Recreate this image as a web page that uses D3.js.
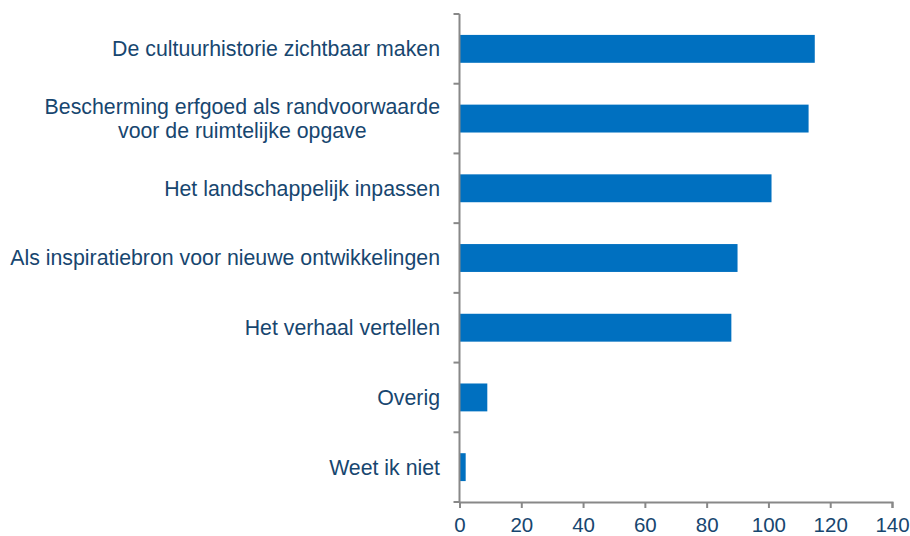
<!DOCTYPE html>
<html>
<head>
<meta charset="utf-8">
<script src="https://d3js.org/d3.v7.min.js"></script>
<style>
  body { margin: 0; background: #fff; }
  svg text { font-family: "Liberation Sans", Arial, sans-serif; }
</style>
</head>
<body>
<svg id="chart" width="910" height="536"></svg>
<script>
const categories = [
  ["De cultuurhistorie zichtbaar maken"],
  ["Bescherming erfgoed als randvoorwaarde", "voor de ruimtelijke opgave"],
  ["Het landschappelijk inpassen"],
  ["Als inspiratiebron voor nieuwe ontwikkelingen"],
  ["Het verhaal vertellen"],
  ["Overig"],
  ["Weet ik niet"]
];
const values = [115, 113, 101, 90, 88, 9, 2];
const xTicks = [0, 20, 40, 60, 80, 100, 120, 140];

const svg = d3.select('#chart');
const plotLeft = 459.5, plotRight = 892, plotTop = 14, plotBottom = 502;
const textColor = '#17466F';
const axisColor = '#888888';
const labelRight = 440;

const x = d3.scaleLinear().domain([0, 140]).range([plotLeft, plotRight]);
const y = d3.scaleBand().domain(d3.range(values.length)).range([plotTop, plotBottom]).paddingInner(0.6).paddingOuter(0.3);

// bars
svg.append('g').selectAll('rect')
  .data(values)
  .enter().append('rect')
    .attr('x', x(0))
    .attr('y', (d, i) => y(i))
    .attr('width', d => x(d) - x(0))
    .attr('height', y.bandwidth())
    .attr('fill', '#0070C0');

// y axis line with ticks at category boundaries
const step = (plotBottom - plotTop) / values.length;
const gy = svg.append('g');
gy.append('line')
  .attr('x1', plotLeft).attr('x2', plotLeft).attr('y1', plotTop).attr('y2', plotBottom)
  .attr('stroke', axisColor).attr('stroke-width', 2);
gy.selectAll('line.tick')
  .data(d3.range(values.length + 1))
  .enter().append('line')
    .attr('class', 'tick')
    .attr('x1', plotLeft - 6).attr('x2', plotLeft)
    .attr('y1', i => plotTop + i * step).attr('y2', i => plotTop + i * step)
    .attr('stroke', axisColor).attr('stroke-width', 2);

// category labels (multi-line labels are centred as a block, right edge at labelRight)
const fontSize = 21.3, lineH = 24;
categories.forEach((lines, i) => {
  const cy = y(i) + y.bandwidth() / 2;
  const g = svg.append('g');
  const texts = lines.map((s, j) => g.append('text')
    .attr('y', cy + (j - (lines.length - 1) / 2) * lineH)
    .attr('dy', '0.35em')
    .attr('fill', textColor)
    .style('font-size', fontSize + 'px')
    .text(s));
  const w = d3.max(texts, t => t.node().getComputedTextLength());
  texts.forEach(t => t.attr('x', labelRight - w / 2).attr('text-anchor', 'middle'));
});

// x axis
const gx = svg.append('g')
  .attr('transform', `translate(0,${plotBottom})`)
  .call(d3.axisBottom(x).tickValues(xTicks).tickSize(6).tickPadding(9));
gx.select('.domain').attr('stroke', axisColor).attr('stroke-width', 2);
gx.selectAll('.tick line').attr('stroke', axisColor).attr('stroke-width', 2);
gx.selectAll('.tick text')
  .attr('fill', textColor)
  .style('font-size', '20.5px')
  .style('font-family', '"Liberation Sans", Arial, sans-serif');
</script>
</body>
</html>
